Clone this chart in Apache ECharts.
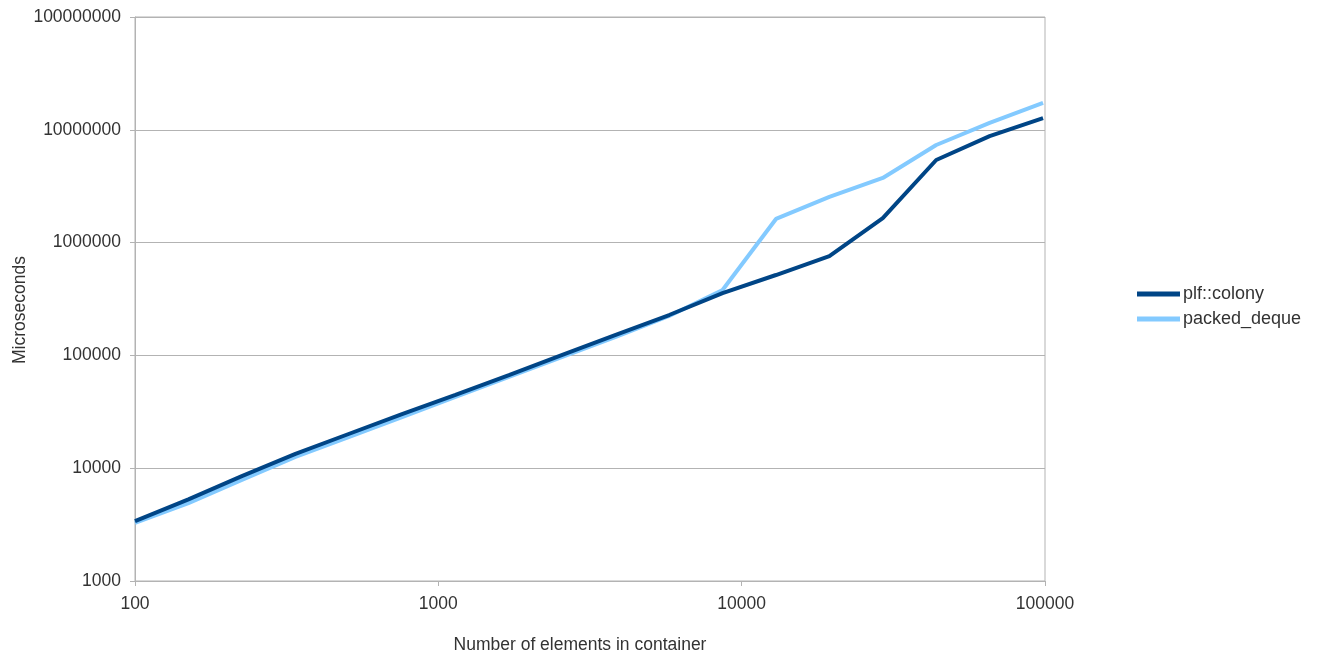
<!DOCTYPE html>
<html>
<head>
<meta charset="utf-8">
<title>plf::colony vs packed_deque</title>
<script src="https://cdn.jsdelivr.net/npm/echarts@6/dist/echarts.min.js"></script>
<style>
  html, body { margin: 0; padding: 0; background: #fff; }
  #chart { width: 1323px; height: 659px; }
</style>
</head>
<body>
<div id="chart"></div>
<script>
// element counts (x), each step x1.5
const sizes = [100, 150, 225, 338, 506, 759, 1139, 1709, 2563, 3844, 5767, 8650,
  12975, 19462, 29193, 43789, 65684, 98526]

// microseconds
const colony = [3400, 5300, 8500, 13400, 20100, 30200, 44600, 67000, 101000, 152000,
  228000, 357000, 516000, 760000, 1650000, 5400000, 8800000, 12700000]
const packedDeque = [3270, 4900, 7860, 12600, 18900, 28400, 42800, 64400, 96800, 145600,
  223600, 380000, 1620000, 2540000, 3740000, 7330000, 11500000, 17300000]

const seriesNames = ['plf::colony', 'packed_deque']
const seriesColors = ['#004586', '#83caff']

const textColor = '#333'
const gridColor = '#b3b3b3'
const font = 'Liberation Sans, Arial, sans-serif'

const chart = echarts.init(document.getElementById('chart'), null, { renderer: 'canvas' })

const pairs = (ys) => sizes.map((x, i) => [x, ys[i]])

chart.setOption({
  backgroundColor: '#fff',
  animation: false,
  textStyle: { fontFamily: font, color: textColor },
  grid: {
    left: 135, right: 278, top: 17, bottom: 78,
    containLabel: false, outerBoundsMode: 'none',
    show: true, borderColor: gridColor, borderWidth: 1,
  },
  legend: {
    orient: 'vertical',
    left: 1132,
    top: 280,
    icon: 'rect',
    itemWidth: 43,
    itemHeight: 5,
    itemGap: 7,
    textStyle: { fontSize: 18, color: textColor, fontFamily: font, padding: [0, 0, 0, -2] },
    data: seriesNames,
  },
  xAxis: {
    type: 'log',
    logBase: 10,
    min: 100,
    max: 100000,
    name: 'Number of elements in container',
    nameLocation: 'middle',
    nameGap: 55,
    nameMoveOverlap: false,
    nameTextStyle: { fontSize: 17.5, color: textColor, padding: [0, 20, 0, 0] },
    axisLine: { lineStyle: { color: gridColor } },
    axisTick: { show: true, length: 5, lineStyle: { color: gridColor } },
    axisLabel: { fontSize: 17.5, color: textColor, margin: 14, formatter: (v) => String(Math.round(v)) },
    splitLine: { show: false },
    minorTick: { show: false },
  },
  yAxis: {
    type: 'log',
    logBase: 10,
    min: 1000,
    max: 100000000,
    name: 'Microseconds',
    nameLocation: 'middle',
    nameGap: 106,
    nameMoveOverlap: false,
    nameTextStyle: { fontSize: 17.5, color: textColor, padding: [0, 22, 0, 0] },
    axisLine: { show: true, lineStyle: { color: gridColor } },
    axisTick: { show: true, length: 5, lineStyle: { color: gridColor } },
    axisLabel: { fontSize: 17.5, color: textColor, margin: 14, formatter: (v) => String(Math.round(v)) },
    splitLine: { show: true, lineStyle: { color: gridColor, width: 1 } },
  },
  series: [
    {
      name: seriesNames[0],
      type: 'line',
      data: pairs(colony),
      symbol: 'none',
      lineStyle: { color: seriesColors[0], width: 4 },
      itemStyle: { color: seriesColors[0] },
      z: 3,
    },
    {
      name: seriesNames[1],
      type: 'line',
      data: pairs(packedDeque),
      symbol: 'none',
      lineStyle: { color: seriesColors[1], width: 4 },
      itemStyle: { color: seriesColors[1] },
      z: 2,
    },
  ],
})
</script>
</body>
</html>
